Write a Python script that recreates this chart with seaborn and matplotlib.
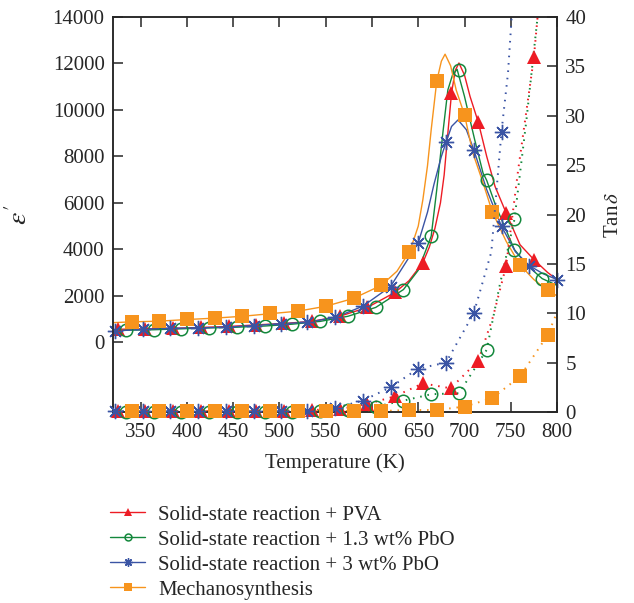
import numpy as np
import pandas as pd
import matplotlib
matplotlib.use('Agg')
import matplotlib.pyplot as plt
from matplotlib.lines import Line2D
import seaborn as sns

# ---- data ----
labels = ["Solid-state reaction + PVA",
          "Solid-state reaction + 1.3 wt% PbO",
          "Solid-state reaction + 3 wt% PbO",
          "Mechanosynthesis"]

# marker points (temperature, eps', tan delta)
pva_t = [325, 355, 385, 415, 445, 475, 505, 535, 565, 595, 625, 655, 685, 715, 745, 775]
pva_eps = [560, 580, 600, 640, 680, 750, 810, 900, 1120, 1500, 2150, 3430, 10730, 9460, 5570, 3560]
pva_tan = [0.1, 0.1, 0.1, 0.1, 0.1, 0.1, 0.15, 0.2, 0.3, 0.8, 1.6, 2.9, 2.4, 5.2, 14.8, 35.9]

pbo13_t = [334, 364, 394, 424, 454, 484, 514, 544, 574, 604, 634, 664, 694, 724, 754, 784]
pbo13_eps = [520, 540, 580, 620, 650, 700, 780, 900, 1120, 1500, 2270, 4570, 11700, 6970, 3990, 2740]
pbo13_tan = [0, 0, 0, 0, 0, 0, 0.05, 0.1, 0.2, 0.55, 1.15, 1.8, 1.9, 6.3, 19.5, np.nan]

pbo3_t = [322, 352, 382, 412, 442, 472, 502, 530, 560, 590, 620, 650, 680, 710, 740, 770, 800]
pbo3_eps = [500, 560, 600, 620, 650, 720, 800, 860, 1070, 1550, 2400, 4280, 8600, 8290, 4990, 3300, 2700]
pbo3_tan = [0.1, 0.1, 0.1, 0.1, 0.1, 0.1, 0.1, 0.15, 0.4, 1.15, 2.5, 4.4, 5.0, 10.0, 28.4, np.nan, np.nan]

mech_t = [340, 370, 400, 430, 460, 490, 520, 550, 580, 610, 640, 670, 700, 730, 760, 790]
mech_eps = [880, 900, 990, 1030, 1120, 1240, 1330, 1550, 1890, 2450, 3870, 11240, 9790, 5620, 3330, 2230]
mech_tan = [0.1, 0.1, 0.1, 0.1, 0.1, 0.1, 0.1, 0.1, 0.1, 0.1, 0.2, 0.2, 0.55, 1.4, 3.6, 7.8]

# solid eps' curves
pva_line_t = [320, 325, 355, 385, 415, 445, 475, 505, 535, 565, 595, 625, 640, 655, 662, 668, 674, 678,
              682, 686, 690, 694, 700, 706, 715, 724, 733, 745, 760, 775, 790, 800]
pva_line_eps = [540, 560, 580, 600, 640, 680, 750, 810, 900, 1120, 1500, 2150, 2650, 3430, 4100, 4900, 6000, 7200,
                9000, 10730, 11700, 12020, 11500, 10580, 9460, 8000, 6710, 5570, 4200, 3560, 3000, 2700]

pbo13_line_t = [320, 334, 364, 394, 424, 454, 484, 514, 544, 574, 604, 634, 650, 664, 670, 677, 682,
                687, 692, 700, 711, 720, 724, 734, 754, 768, 784, 800]
pbo13_line_eps = [480, 520, 540, 580, 620, 650, 700, 780, 900, 1120, 1500, 2270, 3100, 4570, 6570, 9150, 10860,
                  11500, 11750, 10580, 8720, 7290, 6970, 5850, 3990, 3300, 2740, 2450]

pbo3_line_t = [320, 352, 382, 412, 442, 472, 502, 530, 560, 590, 620, 650, 660, 667, 675, 680, 686,
               693, 702, 710, 717, 724, 740, 755, 770, 785, 800]
pbo3_line_eps = [480, 560, 600, 620, 650, 720, 800, 860, 1070, 1550, 2400, 4280, 5600, 6800, 8000, 8600, 9290,
                 9570, 9150, 8290, 7430, 6570, 4990, 3900, 3300, 2950, 2700]

mech_line_t = [320, 340, 370, 400, 430, 460, 490, 520, 550, 580, 610, 627, 640, 645, 650, 655, 660, 664, 670,
               675, 679, 685, 691, 700, 709, 720, 730, 745, 760, 775, 790, 800]
mech_line_eps = [845, 880, 910, 980, 1040, 1120, 1230, 1340, 1550, 1890, 2450, 3060, 3870, 4400, 5000, 6140, 7600, 9150, 11240,
                 12100, 12400, 11900, 10860, 9790, 8150, 6870, 5620, 4350, 3330, 2700, 2230, 2000]

# dotted tan delta curves
pva_dot_t = pva_t[:-2] + [731, 745, 758, 775, 779]
pva_dot_tan = pva_tan[:-2] + [9.7, 14.8, 24.5, 35.9, 40]
pbo13_dot_t = pbo13_t[:-2] + [738, 754, 767, 779]
pbo13_dot_tan = pbo13_tan[:-2] + [12.8, 19.5, 29.6, 40]
pbo3_dot_t = pbo3_t[:-3] + [729, 740, 747, 751]
pbo3_dot_tan = pbo3_tan[:-3] + [16.2, 28.4, 34.3, 40]
mech_dot_t = mech_t + [800]
mech_dot_tan = mech_tan + [10.1]

colors = ["#ED1C24", "#13883C", "#3A54A4", "#F7941D"]

# ---- style ----
sns.set_style("ticks")
plt.rcParams['font.family'] = ['Liberation Serif', 'DejaVu Serif']
plt.rcParams['mathtext.fontset'] = 'stix'
plt.rcParams['font.size'] = 15
plt.rcParams['axes.linewidth'] = 1.1

fig = plt.figure(figsize=(6.34, 6.03), dpi=100)
ax = fig.add_axes([113 / 634, 1 - 412 / 603, 444 / 634, 395 / 603])
ax2 = ax.twinx()

series = [
    (pva_t, pva_eps, pva_tan, pva_line_t, pva_line_eps, pva_dot_t, pva_dot_tan),
    (pbo13_t, pbo13_eps, pbo13_tan, pbo13_line_t, pbo13_line_eps, pbo13_dot_t, pbo13_dot_tan),
    (pbo3_t, pbo3_eps, pbo3_tan, pbo3_line_t, pbo3_line_eps, pbo3_dot_t, pbo3_dot_tan),
    (mech_t, mech_eps, mech_tan, mech_line_t, mech_line_eps, mech_dot_t, mech_dot_tan),
]
marker_kw = [
    dict(marker='^', ms=10, mfc=colors[0], mec=colors[0], mew=0),
    dict(marker='o', ms=9, mfc='none', mec=colors[1], mew=1.1),
    dict(marker=(8, 2, 0), ms=11, mfc=colors[2], mec=colors[2], mew=1.0),
    dict(marker='s', ms=9.5, mfc=colors[3], mec=colors[3], mew=0),
]

for (t, eps, tan, lt, leps, dt, dtan), c, mk in zip(series, colors, marker_kw):
    sns.lineplot(x=lt, y=leps, ax=ax, color=c, lw=1.0, sort=False, zorder=2)
    sns.lineplot(x=dt, y=dtan, ax=ax2, color=c, lw=1.4, sort=False,
                 linestyle=(0, (0.8, 3.0)), zorder=2)
    ax.plot(t, eps, ls='none', zorder=3, clip_on=False, **mk)
    ax2.plot(t, tan, ls='none', zorder=3, clip_on=False, **mk)

ax.set_xlim(320, 800)
ax.set_ylim(-3000, 14000)
ax2.set_ylim(0, 40)
ax.set_xticks(np.arange(350, 801, 50))
ax.set_yticks(np.arange(0, 14001, 2000))
ax2.set_yticks(np.arange(0, 41, 5))

ax.tick_params(axis='both', direction='in', length=7, width=1.1, top=True, right=False)
ax.tick_params(axis='y', pad=6)
ax.tick_params(axis='x', pad=8)
ax2.tick_params(axis='y', direction='in', length=7, width=1.1, pad=6)
for a in (ax, ax2):
    for s in a.spines.values():
        s.set_visible(True)
        s.set_linewidth(1.1)

ax.set_xlabel("Temperature (K)", labelpad=8)
ax.set_ylabel(r"$\epsilon^{\prime}$", fontsize=20, labelpad=14)
ax2.set_ylabel(r"Tan$\,\delta$", labelpad=13)

handles = [Line2D([0], [0], color=c, lw=1.0, **mk) for c, mk in zip(colors, marker_kw)]
fig.legend(handles, labels, loc='upper left', bbox_to_anchor=(110 / 634, 1 - 505 / 603),
           frameon=False, borderpad=0, borderaxespad=0, handlelength=1.7,
           handletextpad=0.6, labelspacing=0.26, markerscale=0.55)

fig.savefig("out.png", dpi=100)
